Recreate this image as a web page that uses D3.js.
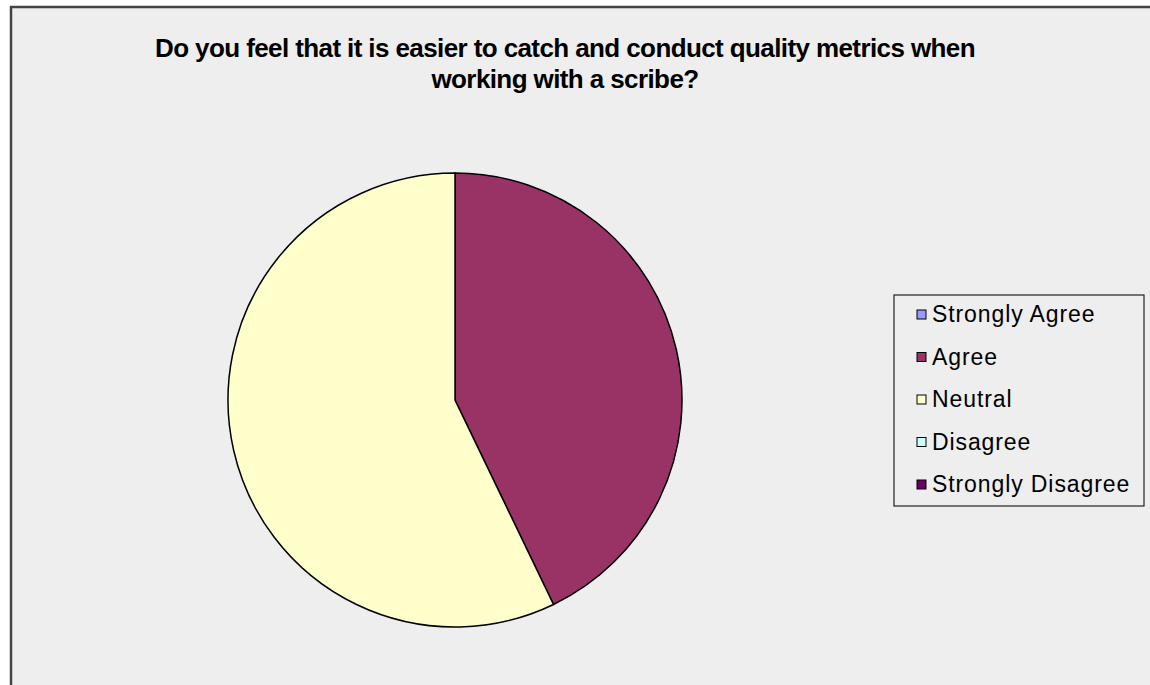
<!DOCTYPE html>
<html>
<head>
<meta charset="utf-8">
<script src="https://cdn.jsdelivr.net/npm/d3@7"></script>
<style>
  body { margin: 0; background: #fff; }
  svg { display: block; }
</style>
</head>
<body>
<svg id="chart" width="1150" height="685"></svg>
<script>
// survey answers
const categories = ["Strongly Agree", "Agree", "Neutral", "Disagree", "Strongly Disagree"];
const counts = [0, 3, 4, 0, 0];
const colours = ["#9999ff", "#993366", "#ffffcc", "#ccffff", "#660066"];
const titleLines = [
  "Do you feel that it is easier to catch and conduct quality metrics when",
  "working with a scribe?"
];

const svg = d3.select("#chart"),
      width = 1150,
      height = 685,
      cx = 455, cy = 400, radius = 227;

// chart frame
svg.append("rect")
    .attr("x", 11).attr("y", 7)
    .attr("width", width + 10).attr("height", height + 10)
    .attr("fill", "#eeeeee")
    .attr("stroke", "#444")
    .attr("stroke-width", 2.5);

svg.append("text")
    .attr("y", 57)
    .attr("text-anchor", "middle")
    .style("font-family", "Liberation Sans, Arial, sans-serif")
    .style("font-weight", "bold")
    .style("font-size", "26px")
    .style("letter-spacing", "-0.6px")
    .attr("fill", "#000")
    .selectAll("tspan")
    .data(titleLines)
    .join("tspan")
    .attr("x", 565)
    .attr("dy", (d, i) => i ? 31 : 0)
    .text(d => d);

const colour = d3.scaleOrdinal().domain(categories).range(colours);

const pie = d3.pie().sort(null).value(d => d.value);
const arc = d3.arc().innerRadius(0).outerRadius(radius);
const data = categories.map((c, i) => ({ name: c, value: counts[i] }));

svg.append("g")
    .attr("transform", `translate(${cx},${cy})`)
    .selectAll("path")
    .data(pie(data).filter(d => d.data.value > 0))
    .join("path")
    .attr("d", arc)
    .attr("fill", d => colour(d.data.name))
    .attr("stroke", "#000")
    .attr("stroke-width", 1.5);

// legend
const legend = svg.append("g").attr("transform", "translate(894,295)");
legend.append("rect")
    .attr("width", 250).attr("height", 211)
    .attr("fill", "#eeeeee")
    .attr("stroke", "#222")
    .attr("stroke-width", 1.2);

const rowY = d3.scalePoint().domain(categories).range([27, 197]);

const item = legend.selectAll("g.item")
    .data(categories)
    .join("g")
    .attr("class", "item")
    .attr("transform", d => `translate(0,${rowY(d)})`);

item.append("rect")
    .attr("x", 23).attr("y", -12)
    .attr("width", 9).attr("height", 9)
    .attr("fill", d => colour(d))
    .attr("stroke", "#000")
    .attr("stroke-width", 1);

item.append("text")
    .attr("x", 38)
    .attr("y", 0)
    .style("font-family", "Liberation Sans, Arial, sans-serif")
    .style("font-size", "23px")
    .style("letter-spacing", "0.9px")
    .attr("fill", "#000")
    .text(d => d);
</script>
</body>
</html>
